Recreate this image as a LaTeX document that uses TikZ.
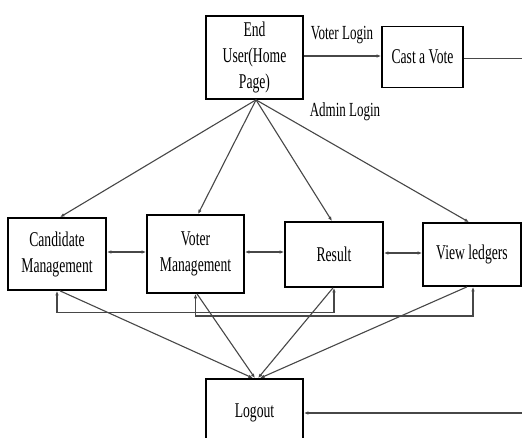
\documentclass[tikz,border=0pt]{standalone}
\usepackage{fontspec}
\setmainfont{Liberation Serif}[FakeStretch=0.65]
\usetikzlibrary{arrows.meta,calc}
\begin{document}
\begin{tikzpicture}[x=1pt,y=-1pt,
  box/.style={draw=black,line width=1.7pt,fill=white,inner sep=0pt,align=center,
    font=\fontsize{21}{26}\selectfont},
  conn/.style={draw=black!72,line width=1.1pt},
  tip/.style={-{Latex[length=4.5pt,width=3.5pt]}},
  both/.style={{Latex[length=4.5pt,width=3.5pt]}-{Latex[length=4.5pt,width=3.5pt]}},
  lbl/.style={font=\fontsize{20}{22}\selectfont,inner sep=0pt}]
\useasboundingbox (0,0) rectangle (522,437);
\fill[white] (0,0) rectangle (522,437);
% nodes
\node[box,minimum width=97pt,minimum height=83pt] (eu) at (254.5,57.5) {End\\User(Home\\Page)};
\node[box,minimum width=81pt,minimum height=61pt] (cv) at (422.5,57) {Cast a Vote};
\node[box,minimum width=98pt,minimum height=72pt] (cm) at (57,254) {Candidate\\Management};
\node[box,minimum width=97pt,minimum height=78pt] (vm) at (195.5,254) {Voter\\Management};
\node[box,minimum width=98pt,minimum height=65pt] (rs) at (334,254.5) {Result};
\node[box,minimum width=98pt,minimum height=63pt] (vl) at (472,254.5) {View ledgers};
\node[box,minimum width=97pt,minimum height=68pt] (lo) at (254.5,413) {Logout};
\coordinate (r1) at (522,58.5);
\coordinate (r2) at (522,413);
\node[lbl] (vlab) at (342,35) {Voter Login};
\node[lbl] (alab) at (345,112) {Admin Login};
% top connectors
\draw[conn,tip] ([yshift=1.5pt]eu.east) -- ([yshift=1.5pt]cv.west |- eu.east);
\draw[conn] (cv.east |- r1) -- (r1);
\coordinate (fan) at ([xshift=1.5pt]eu.south);
\draw[conn,tip] (fan) -- ([xshift=3pt]cm.north);
\draw[conn,tip] (fan) -- ([xshift=2.5pt]vm.north);
\draw[conn,tip] (fan) -- ([xshift=-2pt]rs.north);
\draw[conn,tip] (fan) -- ([xshift=-3pt]vl.north);
% horizontal double arrows
\draw[conn,both] ([yshift=2pt]cm.east) -- ([yshift=2pt]vm.west);
\draw[conn,both] ([yshift=2pt]vm.east) -- ([yshift=2pt]vm.east -| rs.west);
\draw[conn,both] ([yshift=1.5pt]rs.east) -- ([yshift=1.5pt]rs.east -| vl.west);
% brackets
\draw[conn,both] (cm.south) -- ++(0,22) -| (rs.south);
\draw[conn,both,line width=1.5pt] (vm.south) -- ++(0,22) -| ([xshift=1pt]vl.south);
% to logout
\draw[conn,tip] ([xshift=3pt]cm.south) -- ([xshift=-1.5pt]lo.north);
\draw[conn,tip] ([xshift=1.5pt]vm.south) -- ([xshift=0.5pt]lo.north);
\draw[conn,tip] ([xshift=-1pt]rs.south) -- ([xshift=3.5pt]lo.north);
\draw[conn,tip] ([xshift=-5pt]vl.south) -- ([xshift=5.5pt]lo.north);
\draw[conn,tip] (r2) -- (lo.east);
\end{tikzpicture}
\end{document}
